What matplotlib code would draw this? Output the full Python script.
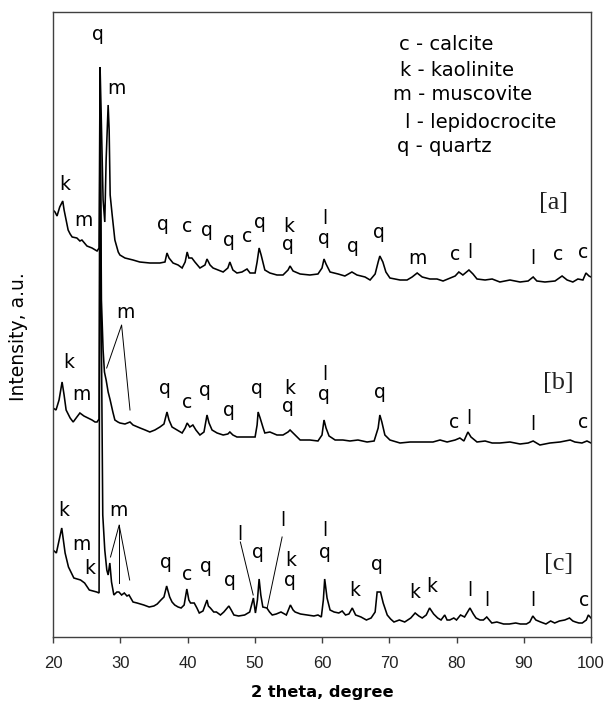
import matplotlib
matplotlib.use('Agg')
import matplotlib.pyplot as plt

# ---------------- data ----------------
two_theta_a = [20.0, 20.3, 20.6, 21.0, 21.45, 21.65, 21.95, 22.25, 22.55, 22.85, 23.55, 24.0, 24.3, 25.05, 25.8,
               26.55, 26.85, 27.0, 27.15, 27.45, 27.7, 27.9, 28.2, 28.35, 28.5, 28.8, 29.2, 29.7, 29.95, 30.7,
               31.9, 32.9, 34.4, 35.9, 36.65, 36.95, 37.25, 37.85, 38.6, 39.2, 39.65, 39.95, 40.2, 40.65, 41.1,
               41.85, 42.6, 42.9, 43.35, 43.8, 44.55, 45.3, 46.0, 46.3, 46.75, 47.35, 48.1, 48.85, 49.3, 50.05,
               50.35, 50.65, 50.95, 51.5, 52.25, 53.3, 54.2, 54.95, 55.25, 55.7, 56.75, 58.2, 59.4, 60.0, 60.3,
               60.6, 61.2, 62.4, 63.4, 64.45, 65.2, 66.4, 67.15, 67.9, 68.35, 68.6, 69.05, 69.5, 70.1, 71.6,
               72.65, 73.4, 74.15, 74.9, 76.05, 77.1, 78.0, 79.8, 80.35, 80.95, 81.85, 82.45, 83.05, 84.25, 85.3,
               86.45, 87.95, 89.45, 90.65, 91.4, 91.95, 93.15, 94.65, 95.7, 96.45, 97.3, 98.05, 98.8, 99.25, 99.7,
               100.0]
intensity_a = [427, 425, 421, 430, 436, 427, 417, 407, 403, 400, 399, 396, 397, 391, 389,
               386, 389, 570, 527, 437, 415, 477, 532, 507, 442, 422, 397, 385, 382, 379,
               377, 375, 374, 374, 375, 384, 379, 374, 372, 369, 375, 385, 379, 379, 375,
               369, 372, 378, 372, 369, 367, 365, 369, 375, 367, 364, 365, 368, 364, 364,
               375, 389, 382, 367, 364, 362, 362, 367, 371, 366, 363, 362, 363, 369, 378,
               373, 365, 363, 361, 365, 362, 360, 357, 363, 375, 381, 375, 365, 359, 357,
               357, 360, 364, 360, 358, 358, 356, 361, 365, 362, 367, 363, 358, 357, 358,
               355, 357, 355, 356, 360, 356, 355, 356, 361, 357, 355, 358, 357, 364, 361,
               360]

two_theta_b = [20.0, 20.45, 20.9, 21.35, 21.65, 21.95, 22.55, 23.0, 23.55, 24.0, 24.6, 25.2, 25.8, 26.25, 26.55,
               26.85, 27.0, 27.2, 27.45, 27.65, 27.9, 28.2, 28.5, 28.9, 29.2, 29.65, 29.95, 30.7, 31.45, 31.9,
               32.95, 33.7, 34.4, 35.15, 35.9, 36.5, 36.95, 37.25, 37.7, 38.45, 39.2, 39.65, 39.95, 40.35, 40.8,
               41.25, 41.85, 42.45, 42.9, 43.2, 43.65, 44.4, 45.3, 46.0, 46.3, 46.75, 47.35, 48.55, 50.05, 50.35,
               50.5, 50.8, 51.25, 51.5, 52.25, 53.3, 54.2, 54.95, 55.25, 55.85, 56.75, 58.2, 59.4, 60.0, 60.3,
               60.6, 61.05, 61.95, 63.1, 64.15, 65.35, 66.7, 67.75, 68.35, 68.6, 68.9, 69.35, 70.1, 71.6, 73.1,
               74.55, 76.5, 77.55, 78.6, 79.8, 80.5, 81.1, 81.7, 82.15, 83.05, 84.25, 85.3, 86.45, 87.95, 89.45,
               90.65, 91.4, 92.4, 93.9, 95.4, 96.9, 97.6, 98.65, 99.4, 100.0]
intensity_b = [229, 227, 237, 255, 242, 227, 219, 215, 220, 224, 221, 219, 217, 215, 215,
               218, 552, 337, 287, 265, 257, 245, 237, 225, 217, 215, 214, 213, 215, 212,
               209, 207, 205, 207, 210, 213, 225, 217, 210, 207, 204, 209, 214, 210, 212,
               207, 202, 205, 222, 214, 207, 204, 202, 203, 205, 202, 200, 200, 200, 212,
               225, 219, 209, 204, 205, 202, 202, 205, 207, 203, 197, 197, 196, 202, 217,
               209, 201, 197, 197, 196, 197, 195, 196, 209, 222, 215, 202, 197, 194, 195,
               195, 195, 197, 195, 197, 199, 196, 205, 200, 195, 196, 194, 194, 195, 193,
               194, 196, 192, 194, 195, 197, 195, 194, 196, 194]

two_theta_c = [20.0, 20.5, 21.3, 21.8, 22.3, 23.1, 24.1, 24.7, 25.4, 26.5, 26.85, 27.0, 27.15, 27.4, 27.7,
               28.0, 28.2, 28.45, 28.7, 29.05, 29.5, 29.8, 30.2, 30.6, 31.0, 31.3, 31.9, 32.5, 33.5, 34.3,
               35.0, 35.5, 36.05, 36.5, 36.9, 37.35, 37.7, 38.1, 38.6, 39.05, 39.5, 39.9, 40.2, 40.45, 41.0,
               41.4, 41.75, 42.3, 42.9, 43.1, 43.4, 43.9, 44.3, 44.9, 45.4, 46.15, 46.5, 46.9, 47.6, 48.5,
               49.25, 49.8, 50.1, 50.4, 50.65, 50.9, 51.2, 51.8, 52.2, 52.6, 53.2, 53.9, 54.7, 55.3, 55.7,
               56.0, 56.8, 57.8, 58.8, 59.4, 59.9, 60.2, 60.4, 60.75, 61.2, 61.8, 62.5, 63.0, 63.5, 64.0,
               64.5, 65.0, 65.8, 66.6, 67.3, 67.9, 68.2, 68.7, 69.1, 69.7, 70.2, 70.7, 71.5, 72.3, 73.2,
               73.85, 74.4, 74.9, 75.5, 76.0, 76.6, 77.2, 77.7, 78.25, 78.6, 79.0, 79.6, 80.0, 80.6, 81.2,
               82.0, 82.5, 82.9, 83.5, 84.0, 84.5, 85.25, 86.0, 87.0, 87.85, 88.8, 89.5, 90.4, 90.9, 91.35,
               91.8, 92.5, 93.3, 94.0, 94.6, 95.3, 96.1, 96.8, 97.3, 97.7, 98.2, 98.7, 99.3, 99.6, 100.0]
intensity_c = [87, 84, 109, 84, 70, 59, 57, 54, 47, 45, 44, 562, 337, 122, 87,
               67, 62, 74, 55, 42, 45, 45, 42, 44, 41, 42, 35, 34, 32, 30,
               31, 33, 37, 40, 51, 40, 35, 32, 30, 29, 32, 48, 37, 34, 34,
               29, 24, 26, 37, 31, 29, 25, 25, 22, 25, 31, 27, 22, 21, 22,
               25, 39, 24, 37, 58, 42, 30, 29, 25, 22, 23, 25, 22, 32, 27,
               25, 23, 22, 21, 22, 20, 37, 58, 39, 27, 25, 24, 26, 22, 23,
               29, 22, 20, 17, 19, 25, 45, 45, 34, 22, 18, 15, 17, 15, 19,
               24, 21, 19, 22, 29, 23, 19, 17, 22, 17, 17, 19, 17, 22, 20,
               29, 23, 19, 17, 17, 20, 14, 15, 13, 13, 14, 13, 13, 15, 21,
               17, 15, 13, 16, 14, 16, 17, 19, 16, 15, 14, 14, 17, 22, 19]

# peak labels: (letter, two_theta, intensity)
labels_a = [('q', 26.7, 602), ('m', 29.5, 549), ('k', 21.8, 452), ('m', 24.5, 417), ('q', 36.4, 412),
            ('c', 39.9, 410), ('q', 42.85, 407), ('q', 46.1, 397), ('c', 48.8, 400), ('q', 50.7, 415),
            ('k', 55.1, 411), ('q', 55.0, 393), ('l', 60.35, 418), ('q', 60.35, 399), ('q', 64.6, 390),
            ('q', 68.4, 405), ('m', 74.2, 379), ('c', 79.8, 382), ('l', 82.0, 384), ('l', 91.3, 378),
            ('c', 95.1, 382), ('c', 98.8, 385)]
labels_b = [('k', 22.3, 275), ('m', 24.3, 242), ('m', 30.7, 324), ('q', 36.65, 249), ('c', 39.9, 235),
            ('q', 42.6, 246), ('q', 46.1, 227), ('q', 50.3, 249), ('k', 55.2, 249), ('q', 55.0, 230),
            ('l', 60.35, 263), ('q', 60.35, 243), ('q', 68.6, 244), ('c', 79.6, 215), ('l', 81.85, 218),
            ('l', 91.3, 212), ('c', 98.8, 214)]
labels_c = [('k', 21.55, 127), ('m', 24.2, 92), ('k', 25.4, 68), ('m', 29.8, 127), ('q', 36.8, 74),
            ('c', 40.0, 62), ('q', 42.8, 71), ('q', 46.25, 57), ('l', 47.85, 103), ('q', 50.45, 84),
            ('l', 54.1, 116), ('k', 55.4, 76), ('q', 55.2, 56), ('l', 60.4, 106), ('q', 60.4, 85),
            ('k', 64.8, 47), ('q', 68.15, 72), ('k', 73.75, 45), ('k', 76.3, 50), ('l', 82.0, 47),
            ('l', 84.5, 37), ('l', 91.35, 37), ('c', 99.0, 36)]

# leader lines: list of (two_theta list, intensity list)
leaders = [([27.98, 30.2, 31.45], [269, 312, 227]),
           ([28.55, 29.84, 31.4], [80, 112, 57]),
           ([29.84, 29.84], [112, 54]),
           ([47.86, 49.77], [95, 42]),
           ([54.07, 51.85], [100, 29])]

sample_names = ['[a]', '[b]', '[c]']
sample_pos = [(94.4, 434), (95.1, 254), (95.2, 73)]

legend_lines = ['c - calcite', 'k - kaolinite', 'm - muscovite', 'l - lepidocrocite', 'q - quartz']
legend_x = [71.45, 71.6, 70.55, 72.35, 71.15]
legend_y = [592, 567, 542, 515, 490]

x_ticks = [20, 30, 40, 50, 60, 70, 80, 90, 100]

# ---------------- figure ----------------
fig = plt.figure(figsize=(6.04, 7.04), dpi=100)
ax = fig.add_axes([53 / 604, 67 / 704, 538 / 604, 625 / 704])

for tt, inten in [(two_theta_a, intensity_a), (two_theta_b, intensity_b), (two_theta_c, intensity_c)]:
    ax.plot(tt, inten, color='black', lw=1.15, solid_joinstyle='miter')

for xs, ys in leaders:
    ax.plot(xs, ys, color='black', lw=0.7)

sans = 'DejaVu Sans'
for lab in (labels_a, labels_b, labels_c):
    for s, x, y in lab:
        ax.text(x, y, s, ha='center', va='center', fontsize=13.5, family=sans, color='black')

for s, (x, y) in zip(sample_names, sample_pos):
    ax.text(x, y, s, ha='center', va='center', fontsize=19, family='Liberation Serif', color='#222222')

for s, x, y in zip(legend_lines, legend_x, legend_y):
    ax.text(x, y, s, ha='left', va='center', fontsize=14, family=sans, color='black')

ax.set_xlim(20, 100)
ax.set_ylim(0, 625)
ax.set_xticks(x_ticks)
ax.set_xticklabels([str(t) for t in x_ticks], family='Liberation Sans', fontsize=12, color='#222222')
ax.set_yticks([])
ax.tick_params(axis='x', direction='out', length=4, width=1, color='#404040', pad=10)
for sp in ax.spines.values():
    sp.set_color('#404040')
    sp.set_linewidth(1.0)

ax.set_xlabel('2 theta, degree', family=sans, fontsize=11.7, fontweight='bold')
ax.xaxis.set_label_coords(0.5, -0.077)
ax.set_ylabel('Intensity, a.u.', family=sans, fontsize=13.5)
ax.yaxis.set_label_coords(-0.046, 0.48)

fig.savefig('out.png', dpi=100)
